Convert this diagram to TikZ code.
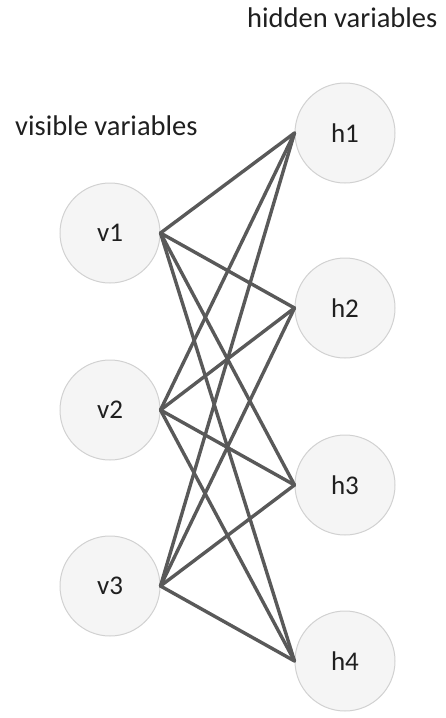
\documentclass[tikz,border=0pt]{standalone}
\usepackage{fontspec}
\setmainfont{Carlito}
\begin{document}
\begin{tikzpicture}[x=1pt,y=-1pt,
  unit/.style={circle,minimum size=100pt,inner sep=0pt,fill=black!4,draw=black!18,line width=1pt,font=\fontsize{27}{30}\selectfont,text=black!88},
  edge/.style={draw=black!65,line width=3.4pt,line cap=round,line join=round},
  lab/.style={font=\fontsize{28.5}{32}\selectfont,text=black!88,inner sep=0pt,anchor=base west}]
\useasboundingbox (0,0) rectangle (445,718);
\node[unit] (v1) at (110,233) {v1};
\node[unit] (v2) at (110,410) {v2};
\node[unit] (v3) at (110,586) {v3};
\node[unit] (h1) at (345,133) {h1};
\node[unit] (h2) at (345,308) {h2};
\node[unit] (h3) at (345,485) {h3};
\node[unit] (h4) at (345,661) {h4};
\node[lab] (vis) at (15,135) {visible variables};
\node[lab] (hid) at (247,27) {hidden variables};
\foreach \v in {v1,v2,v3}{
  \foreach \h in {h1,h2,h3,h4}{
    \draw[edge] (\v.east) -- (\h.west);
  }
}
\end{tikzpicture}
\end{document}
